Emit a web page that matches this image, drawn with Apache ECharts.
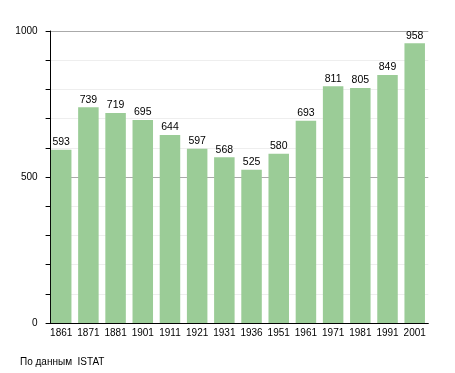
<!DOCTYPE html>
<html><head><meta charset="utf-8">
<script src="https://cdn.jsdelivr.net/npm/echarts@6/dist/echarts.min.js"></script>
<style>html,body{margin:0;padding:0;background:#fff}#c{width:455px;height:373px}</style>
</head><body><div id="c"></div>
<script>
const years = ['1861','1871','1881','1901','1911','1921','1931','1936','1951','1961','1971','1981','1991','2001'];
const population = [593,739,719,695,644,597,568,525,580,693,811,805,849,958];
const yLabels = [0,500,1000];
const font = 'Liberation Sans, Arial, sans-serif';
const chart = echarts.init(document.getElementById('c'), null, {renderer:'canvas'});
chart.setOption({
  animation:false,
  grid:{left:47.6,right:26.7,top:31,bottom:50,containLabel:false},
  title:{text:'По данным  ISTAT',left:20,top:357,padding:0,textStyle:{fontSize:10,fontWeight:'normal',color:'#000',fontFamily:font}},
  xAxis:{type:'category',data:years,
    axisLine:{lineStyle:{color:'#000',width:1}},
    axisTick:{show:false},
    axisLabel:{color:'#000',fontSize:10,fontFamily:font,margin:5,interval:0}},
  yAxis:{type:'value',min:0,max:1000,interval:100,offset:-3,
    axisLine:{show:true,lineStyle:{color:'#000',width:1}},
    axisTick:{show:true,length:5,lineStyle:{color:'#000'}},
    axisLabel:{color:'#000',fontSize:10,fontFamily:font,margin:13,
      formatter:v=>yLabels.includes(v)?String(v):''},
    splitLine:{show:true,lineStyle:{color:['#aaaaaa','#eeeeee','#eeeeee','#eeeeee','#eeeeee'],width:1}}},
  series:[{type:'bar',data:population,barCategoryGap:'24.6%',
    itemStyle:{color:'#9bcc97'},
    label:{show:true,position:'top',distance:2,color:'#000',fontSize:10.5,fontFamily:font}}]
});
</script></body></html>
